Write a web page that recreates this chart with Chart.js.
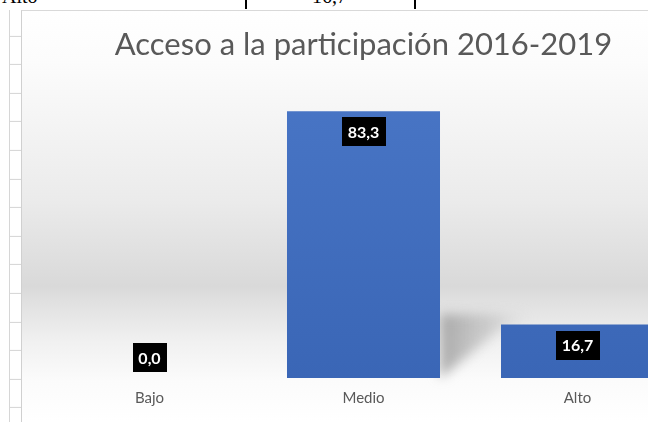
<!DOCTYPE html>
<html>
<head>
<meta charset="utf-8">
<script src="https://cdn.jsdelivr.net/npm/chart.js@4.4.1/dist/chart.umd.min.js"></script>
<style>
html, body { margin: 0; padding: 0; background: #fff; }
body { width: 648px; height: 422px; overflow: hidden; position: relative; }
#tabla { position: absolute; left: 0; top: 0; width: 648px; height: 10px; overflow: hidden; font: 20px "Liberation Serif", serif; color: #000; }
#tabla span { position: absolute; top: -14px; line-height: 20px; white-space: nowrap; }
.sep { position: absolute; top: 0; width: 2px; height: 9px; background: #000; }
#filas { position: absolute; left: 9px; top: 10px; width: 11px; height: 412px;
  border-left: 1px solid #d6d6d6; border-right: 1px solid #c8c8c8;
  background: repeating-linear-gradient(to bottom, transparent 0, transparent 27.6px, #d4d4d4 27.6px, #d4d4d4 28.6px);
  background-position: 0 -2.1px; }
#marco { position: absolute; left: 21px; top: 10px; width: 700px; height: 420px;
  border-top: 1px solid #d9d9d9; border-left: 1px solid #d0d0d0; }
#marco canvas { position: absolute; left: 0; top: 0; }
</style>
</head>
<body>
<div id="tabla">
  <span style="left:2px">Alto</span>
  <div class="sep" style="left:245px"></div>
  <span style="left:312px">16,7</span>
  <div class="sep" style="left:414px"></div>
</div>
<div id="filas"></div>
<div id="marco"><canvas id="grafico" width="690" height="411"></canvas></div>
<script>
const titulo = "Acceso a la participación 2016-2019";
const categorias = ["Bajo", "Medio", "Alto"];
const valores = [0.0, 83.3, 16.7];

// fondo con degradado tipo "pared y suelo" de Excel
const fondo = {
  id: "fondo",
  beforeDraw(chart) {
    const { ctx, width, height } = chart;
    const g = ctx.createLinearGradient(0, 0, 0, height);
    const f = (y) => Math.min(1, Math.max(0, (y - 11) / height));
    g.addColorStop(0, "#ffffff");
    g.addColorStop(f(60), "#fcfcfc");
    g.addColorStop(f(200), "#ebebeb");
    g.addColorStop(f(286), "#d9d9d9");
    g.addColorStop(f(294), "#dddddd");
    g.addColorStop(f(340), "#f0f0f0");
    g.addColorStop(f(380), "#fbfbfb");
    g.addColorStop(1, "#ffffff");
    ctx.save();
    ctx.fillStyle = g;
    ctx.fillRect(0, 0, width, height);
    ctx.restore();
  }
};

// sombra diagonal detrás de la barra "Medio"
const sombra = {
  id: "sombra",
  beforeDatasetsDraw(chart) {
    const bar = chart.getDatasetMeta(0).data[1];
    if (!bar) return;
    const ctx = chart.ctx;
    const r = bar.x + bar.width / 2;
    const base = bar.base;
    ctx.save();
    ctx.filter = "blur(6px)";
    const g = ctx.createLinearGradient(r, 0, r + 90, 0);
    g.addColorStop(0, "rgba(150,150,150,0.8)");
    g.addColorStop(0.6, "rgba(175,175,175,0.45)");
    g.addColorStop(1, "rgba(200,200,200,0)");
    ctx.fillStyle = g;
    ctx.beginPath();
    ctx.moveTo(r, base);
    ctx.lineTo(r, base - 64);
    ctx.lineTo(r + 90, base - 64);
    ctx.lineTo(r + 90, base - 56);
    ctx.lineTo(r + 62, base - 50);
    ctx.closePath();
    ctx.fill();
    ctx.restore();
  }
};

// etiquetas de datos: recuadro negro con texto blanco
const etiquetas = {
  id: "etiquetas",
  afterDatasetsDraw(chart) {
    const ctx = chart.ctx;
    const meta = chart.getDatasetMeta(0);
    ctx.save();
    ctx.font = "bold 16px Lato";
    ctx.textAlign = "center";
    ctx.textBaseline = "middle";
    meta.data.forEach((bar, i) => {
      const txt = valores[i].toFixed(1).replace(".", ",");
      const w = Math.round(ctx.measureText(txt).width) + 12;
      const h = 29;
      const alto = bar.base - bar.y;
      const top = alto >= h + 12 ? bar.y + 6 : bar.base - 6 - h;
      ctx.fillStyle = "#000";
      ctx.fillRect(Math.round(bar.x - w / 2), Math.round(top), w, h);
      ctx.fillStyle = "#fff";
      ctx.fillText(txt, bar.x, top + h / 2 + 1);
    });
    ctx.restore();
  }
};

new Chart(document.getElementById("grafico"), {
  type: "bar",
  data: {
    labels: categorias,
    datasets: [{
      data: valores,
      backgroundColor: (c) => {
        const area = c.chart.chartArea;
        if (!area) return "#4472c4";
        const g = c.chart.ctx.createLinearGradient(0, area.top, 0, area.bottom);
        g.addColorStop(0, "#4a77c7");
        g.addColorStop(1, "#3a66b6");
        return g;
      },
      borderWidth: 0,
      barPercentage: 0.715,
      categoryPercentage: 1
    }]
  },
  options: {
    responsive: false,
    animation: false,
    layout: { padding: { left: 20.5, right: 27.5, top: 0, bottom: 4 } },
    scales: {
      x: {
        grid: { display: false, drawTicks: false },
        border: { display: false },
        ticks: { color: "#595959", font: { family: "Lato", size: 15 }, padding: 11 }
      },
      y: { display: false, min: 0, max: 100 }
    },
    plugins: {
      legend: { display: false },
      tooltip: { enabled: false },
      title: {
        display: true,
        text: titulo,
        color: "#595959",
        font: { family: "Lato", size: 31, weight: "400", lineHeight: 0.8 },
        padding: { top: 22, bottom: 0 }
      }
    }
  },
  plugins: [fondo, sombra, etiquetas]
});
</script>
</body>
</html>
